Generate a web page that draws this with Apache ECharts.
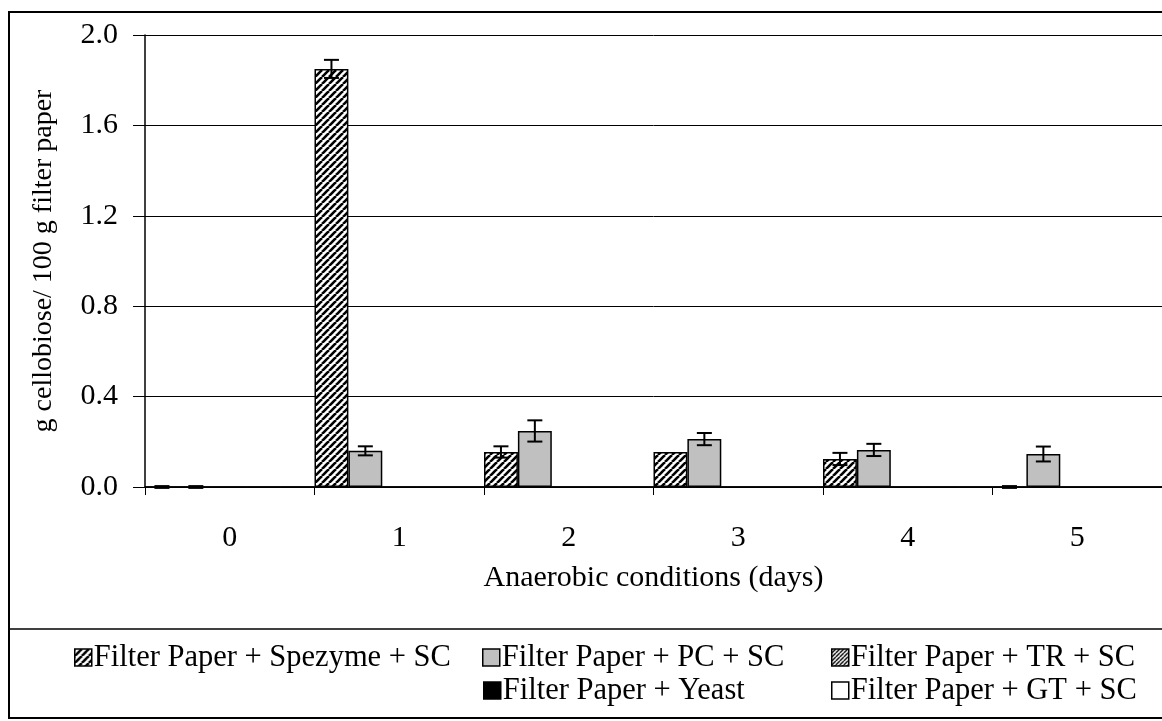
<!DOCTYPE html>
<html>
<head>
<meta charset="utf-8">
<script src="https://cdn.jsdelivr.net/npm/echarts@6/dist/echarts.min.js"></script>
<style>
html,body{margin:0;padding:0;background:#fff;overflow:hidden;}
#chart{width:1162px;height:721px;}
</style>
</head>
<body>
<div id="chart"></div>
<script>
const categories = ['0', '1', '2', '3', '4', '5'];
const seriesNames = ['Filter Paper + Spezyme + SC', 'Filter Paper + PC + SC', 'Filter Paper + TR + SC', 'Filter Paper + Yeast', 'Filter Paper + GT + SC'];
const spezyme = [0, 1.85, 0.155, 0.155, 0.124, 0];
const spezymeErr = [0.004, 0.04, 0.025, 0, 0.027, 0.004];
const pc = [0, 0.16, 0.248, 0.212, 0.164, 0.146];
const pcErr = [0.004, 0.02, 0.047, 0.027, 0.027, 0.033];
const tr = [0, 0, 0, 0, 0, 0];
const yeast = [0, 0, 0, 0, 0, 0];
const gt = [0, 0, 0, 0, 0, 0];
const yTicks = [0, 0.4, 0.8, 1.2, 1.6, 2.0];

function makeHatch(size, lw) {
  const c = document.createElement('canvas');
  c.width = size; c.height = size;
  const ctx = c.getContext('2d');
  ctx.fillStyle = '#fff';
  ctx.fillRect(0, 0, size, size);
  ctx.strokeStyle = '#000';
  ctx.lineWidth = lw;
  for (let k = -1; k <= 1; k++) {
    ctx.beginPath();
    ctx.moveTo(k * size, size);
    ctx.lineTo(k * size + size, 0);
    ctx.stroke();
  }
  return c;
}
const hatchWide = { image: makeHatch(7, 2.6), repeat: 'repeat' };
const hatchDense = { image: makeHatch(4, 1.4), repeat: 'repeat' };

const fills = [hatchWide, '#C0C0C0', hatchDense, '#000000', '#FFFFFF'];
const values = [spezyme, pc, tr, yeast, gt];

const FONT = 'Liberation Serif';
const FS = 30;
const LFS = 30.5;

const errData = [];
[[spezyme, spezymeErr, 0], [pc, pcErr, 1]].forEach(([vals, errs, slot]) => {
  vals.forEach((v, i) => errData.push([i, slot, v, errs[i]]));
});

const barSeries = values.map((vals, si) => ({
  name: seriesNames[si],
  type: 'bar',
  data: vals,
  barGap: '0%',
  barCategoryGap: '0%',
  itemStyle: { color: fills[si], borderColor: '#000', borderWidth: 1.5 },
  emphasis: { disabled: true },
  animation: false
}));

const errSeries = {
  type: 'custom',
  name: 'err',
  data: errData,
  z: 10,
  animation: false,
  encode: { x: 0, y: 2 },
  renderItem: function (params, api) {
    const cat = api.value(0), slot = api.value(1), v = api.value(2), e = api.value(3);
    if (e <= 0) return null;
    const band = api.size([1, 0])[0];
    const w = band / 5;
    const c = api.coord([cat, v]);
    const x = c[0] + (slot - 2) * w;
    const hi = api.coord([cat, v + e])[1];
    const lo = api.coord([cat, v - e])[1];
    const half = 7.5;
    const st = { stroke: '#000', lineWidth: 2 };
    return {
      type: 'group',
      children: [
        { type: 'line', shape: { x1: x, y1: hi, x2: x, y2: lo }, style: st },
        { type: 'line', shape: { x1: x - half, y1: hi, x2: x + half, y2: hi }, style: st },
        { type: 'line', shape: { x1: x - half, y1: lo, x2: x + half, y2: lo }, style: st }
      ]
    };
  }
};

const legendPos = [
  { left: 74, top: 642 },
  { left: 482, top: 642 },
  { left: 831, top: 642 },
  { left: 483, top: 675 },
  { left: 831, top: 675 }
];
const legends = seriesNames.map((n, i) => ({
  data: [{ name: n, icon: 'rect' }],
  left: legendPos[i].left,
  top: legendPos[i].top,
  orient: 'horizontal',
  itemWidth: 17,
  itemHeight: 17,
  itemGap: 0,
  padding: 0,
  selectedMode: false,
  textStyle: { fontFamily: FONT, fontSize: LFS, color: '#000', padding: [0, 0, 0, -3] },
  itemStyle: { borderColor: '#000', borderWidth: 1.5 }
}));

const chart = echarts.init(document.getElementById('chart'), null, { renderer: 'canvas' });
chart.setOption({
  backgroundColor: '#fff',
  animation: false,
  textStyle: { fontFamily: FONT },
  grid: { left: 145, right: -7, top: 35, bottom: 234, containLabel: false },
  legend: legends,
  xAxis: {
    type: 'category',
    data: categories,
    boundaryGap: true,
    name: 'Anaerobic conditions (days)',
    nameLocation: 'middle',
    nameGap: 76,
    nameTextStyle: { fontFamily: FONT, fontSize: FS, color: '#000' },
    axisLine: { lineStyle: { color: '#000', width: 1.5 } },
    axisTick: { show: true, alignWithLabel: false, length: 8, lineStyle: { color: '#000', width: 1 } },
    axisLabel: { fontFamily: FONT, fontSize: FS, color: '#000', margin: 36 },
    splitLine: { show: false }
  },
  yAxis: {
    type: 'value',
    min: 0,
    max: 2,
    interval: 0.4,
    name: 'g cellobiose/ 100 g filter paper',
    nameLocation: 'middle',
    nameGap: 87,
    nameRotate: 90,
    nameTextStyle: { fontFamily: FONT, fontSize: 28, color: '#000' },
    axisLine: { show: true, lineStyle: { color: '#000', width: 1.5 } },
    axisTick: { show: true, inside: false, length: 12, lineStyle: { color: '#000', width: 1 } },
    axisLabel: {
      fontFamily: FONT, fontSize: FS, color: '#000', margin: 27,
      formatter: v => (yTicks.some(t => Math.abs(t - v) < 1e-9) ? v.toFixed(1) : '')
    },
    splitLine: { show: true, lineStyle: { color: '#000', width: 1 } }
  },
  graphic: [
    { type: 'rect', shape: { x: 9, y: 12, width: 1200, height: 706 }, style: { fill: 'none', stroke: '#000', lineWidth: 2 }, z: 100 },
    { type: 'line', shape: { x1: 9, y1: 629, x2: 1162, y2: 629 }, style: { stroke: '#000', lineWidth: 1.5 }, z: 100 }
  ],
  series: barSeries.concat([errSeries])
});
</script>
</body>
</html>
